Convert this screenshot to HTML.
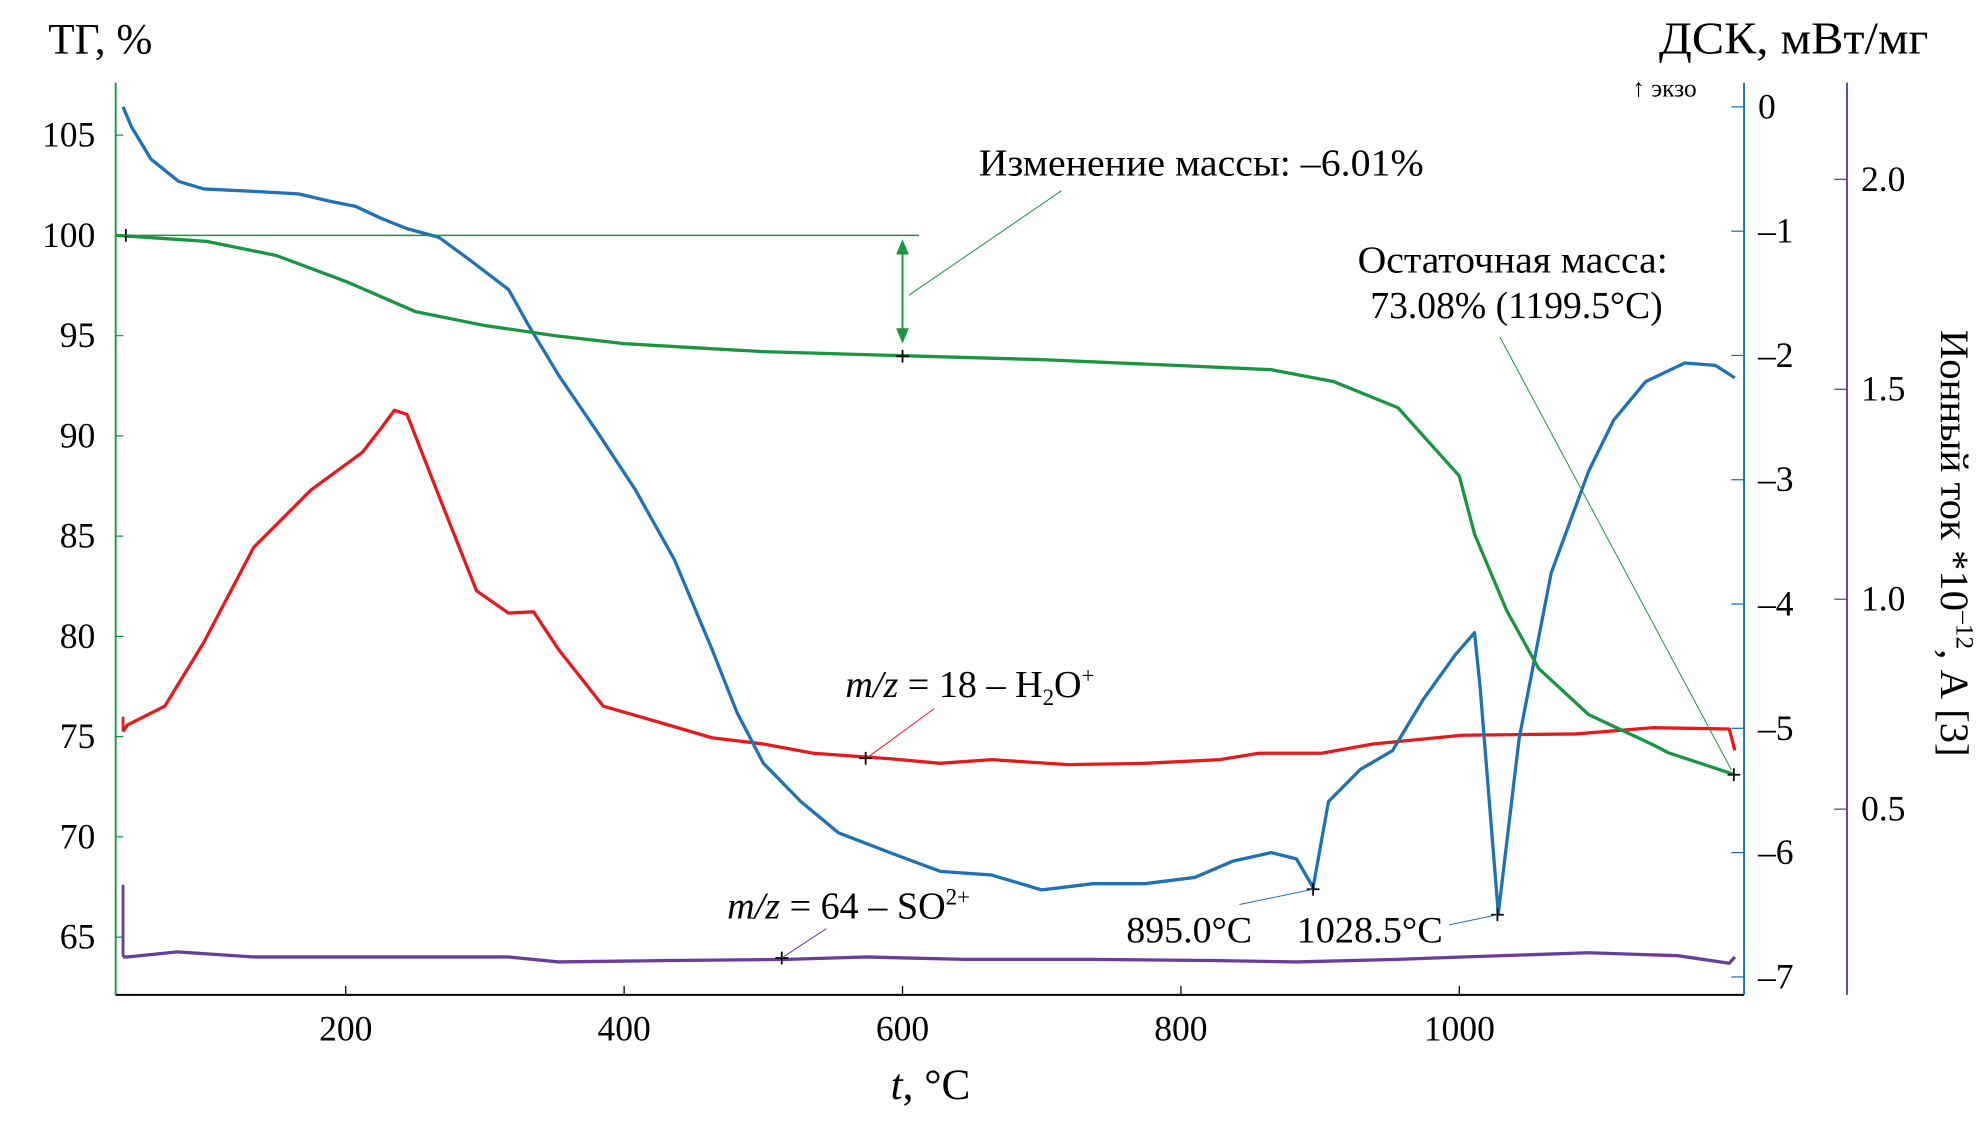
<!DOCTYPE html>
<html><head><meta charset="utf-8"><style>
html,body{margin:0;padding:0;background:#fff;}
svg{display:block;font-family:"Liberation Serif",serif;}
</style></head><body>
<svg id="chart" width="1983" height="1145" viewBox="0 0 1560 900" preserveAspectRatio="none" xmlns="http://www.w3.org/2000/svg">
<g id="axes"></g>
<g id="series"></g>
<g id="annot">
<text x="38" y="42" font-size="34">ТГ, %</text>
<text x="1517" y="42" font-size="36" text-anchor="end" textLength="212" lengthAdjust="spacingAndGlyphs">ДСК, мВт/мг</text>
<text x="1284" y="76" font-size="20">↑ экзо</text>
<text transform="translate(1527,427) rotate(90)" font-size="32" text-anchor="middle">Ионный ток *10<tspan font-size="20" dy="-12">–12</tspan><tspan dy="12">, А [3]</tspan></text>
<text x="732" y="864" font-size="34" text-anchor="middle"><tspan font-style="italic">t</tspan>, °C</text>
<line x1="91" y1="185" x2="723" y2="185" stroke="#1a9641" stroke-width="1.2"/>
<line x1="710" y1="192" x2="710" y2="266" stroke="#1a9641" stroke-width="1.5"/>
<path d="M705,200 L710,188 L715,200 Z M705,258 L710,270 L715,258 Z" fill="#1a9641"/>
<line x1="715" y1="232" x2="835" y2="150" stroke="#1a9641" stroke-width="0.8"/>
<text x="770" y="138" font-size="30" textLength="350" lengthAdjust="spacingAndGlyphs">Изменение массы: –6.01%</text>
<text x="1068" y="214" font-size="30" textLength="244" lengthAdjust="spacingAndGlyphs">Остаточная масса:</text>
<text x="1078" y="250" font-size="30" textLength="230" lengthAdjust="spacingAndGlyphs">73.08% (1199.5°C)</text>
<line x1="1180" y1="265" x2="1362" y2="605" stroke="#1a9641" stroke-width="0.8"/>
<text x="665" y="548" font-size="30"><tspan font-style="italic">m/z</tspan> = 18 – H<tspan font-size="18" dy="6">2</tspan><tspan dy="-6">O</tspan><tspan font-size="18" dy="-11">+</tspan></text>
<line x1="683" y1="595" x2="735" y2="557" stroke="#e41a1c" stroke-width="0.8"/>
<text x="572" y="722" font-size="30"><tspan font-style="italic">m/z</tspan> = 64 – SO<tspan font-size="18" dy="-11">2+</tspan></text>
<line x1="615" y1="753" x2="650" y2="730" stroke="#6a3d9a" stroke-width="0.8"/>
<text x="886" y="741" font-size="29" textLength="99" lengthAdjust="spacingAndGlyphs">895.0°C</text>
<line x1="975" y1="711" x2="1033" y2="699" stroke="#2171b5" stroke-width="0.8"/>
<text x="1020" y="741" font-size="29" textLength="115" lengthAdjust="spacingAndGlyphs">1028.5°C</text>
<line x1="1140" y1="727" x2="1178" y2="719" stroke="#2171b5" stroke-width="0.8"/>
</g>
</svg>
<script>
const tgT=[35,100,150,200,250,300,350,400,450,500,600,700,800,865,910,956,1000,1011,1034,1057,1093,1139,1150,1198];
const tgV=[100,99.7,99,97.7,96.2,95.5,95,94.6,94.4,94.2,94,93.8,93.5,93.3,92.7,91.4,88,85.1,81.3,78.4,76.1,74.6,74.2,73.1];
const dscT=[40,46,60,80,98,134,166,189,207,226,244,267,290,317,331,353,381,408,436,463,481,500,527,554,591,627,664,700,737,774,810,837,865,883,895,906,929,952,974,997,1011,1015,1028,1043,1066,1093,1111,1134,1162,1184,1198];
const dscV=[0,-0.16,-0.42,-0.6,-0.66,-0.68,-0.7,-0.76,-0.8,-0.9,-0.98,-1.05,-1.24,-1.47,-1.75,-2.16,-2.62,-3.08,-3.64,-4.36,-4.87,-5.28,-5.59,-5.84,-6.0,-6.15,-6.18,-6.3,-6.25,-6.25,-6.2,-6.07,-6.0,-6.05,-6.28,-5.59,-5.33,-5.18,-4.77,-4.41,-4.23,-4.67,-6.49,-5.08,-3.75,-2.93,-2.52,-2.21,-2.06,-2.08,-2.18];
const h2oT=[40,43,70,98,134,175,212,226,235,244,267,294,317,335,353,385,426,463,500,536,591,627,664,719,774,828,856,901,938,1002,1084,1139,1194,1198];
const h2oV=[0.685,0.70,0.745,0.897,1.124,1.26,1.35,1.41,1.45,1.44,1.245,1.02,0.967,0.97,0.88,0.745,0.706,0.67,0.655,0.633,0.62,0.609,0.618,0.606,0.609,0.618,0.633,0.633,0.655,0.676,0.679,0.694,0.691,0.64];
const soT=[40,43,79,134,226,317,353,426,517,573,645,737,828,883,956,1002,1093,1157,1194,1198];
const soV=[0.148,0.148,0.16,0.148,0.148,0.148,0.136,0.139,0.142,0.148,0.142,0.142,0.139,0.136,0.142,0.148,0.158,0.151,0.133,0.148];
const xTicks=[200,400,600,800,1000];
const tgTicks=[65,70,75,80,85,90,95,100,105];
const dscTicks=[0,-1,-2,-3,-4,-5,-6,-7];
const ionTicks=[0.5,1.0,1.5,2.0];
const ionLabels=["0.5","1.0","1.5","2.0"];

const X=t=>53+t*1.095;
const YT=v=>185+(100-v)*15.76;
const YD=v=>84-v*97.7;
const YI=v=>141+(2.0-v)*330;
const NS="http://www.w3.org/2000/svg";
const axes=document.getElementById('axes'), ser=document.getElementById('series');
function mk(tag,attrs,parent){const e=document.createElementNS(NS,tag);for(const k in attrs)e.setAttribute(k,attrs[k]);parent.appendChild(e);return e;}
let e;
e=mk('line',{x1:91,y1:65,x2:91,y2:782,stroke:'#1a9641','stroke-width':1.5},axes);


e=mk('line',{x1:91,y1:782,x2:1372,y2:782,stroke:'#000','stroke-width':1.5},axes);


e=mk('line',{x1:1372,y1:65,x2:1372,y2:782,stroke:'#2171b5','stroke-width':1.5},axes);


e=mk('line',{x1:1453,y1:65,x2:1453,y2:782,stroke:'#6a3d9a','stroke-width':1.5},axes);


xTicks.forEach(t=>{
  mk('line',{x1:X(t),y1:782,x2:X(t),y2:775,stroke:'#000','stroke-width':1},axes);
  e=mk('text',{x:X(t),y:818,'font-size':28,'text-anchor':'middle'},axes);e.textContent=t;
  
  
});
tgTicks.forEach(v=>{
  mk('line',{x1:91,y1:YT(v),x2:97,y2:YT(v),stroke:'#1a9641','stroke-width':1},axes);
  e=mk('text',{x:75,y:YT(v)+9,'font-size':28,'text-anchor':'end'},axes);e.textContent=v;
  
  
});
dscTicks.forEach(v=>{
  mk('line',{x1:1362,y1:YD(v),x2:1372,y2:YD(v),stroke:'#2171b5','stroke-width':1},axes);
  e=mk('text',{x:1383,y:YD(v)+9,'font-size':28},axes);e.textContent=v===0?'0':'–'+(-v);
  
  
});
ionTicks.forEach((v,i)=>{
  mk('line',{x1:1443,y1:YI(v),x2:1453,y2:YI(v),stroke:'#6a3d9a','stroke-width':1},axes);
  e=mk('text',{x:1464,y:YI(v)+9,'font-size':28},axes);e.textContent=ionLabels[i];
  
  
});
function line(ts,vs,yf,color,name){
  const d=ts.map((t,i)=>(i?'L':'M')+X(t).toFixed(1)+','+yf(vs[i]).toFixed(1)).join(' ');
  const p=mk('path',{d:d,fill:'none',stroke:color,'stroke-width':2.6,'stroke-linejoin':'round'},ser);
  
  
}
line(soT,soV,YI,'#6a3d9a','so-series');
mk('line',{x1:X(40),y1:YI(0.32),x2:X(40),y2:YI(0.148),stroke:'#6a3d9a','stroke-width':2.2},ser);
line(h2oT,h2oV,YI,'#e41a1c','h2o-series');
mk('line',{x1:X(40),y1:YI(0.72),x2:X(40),y2:YI(0.685),stroke:'#e41a1c','stroke-width':2.2},ser);
line(dscT,dscV,YD,'#2171b5','dsc-series');
line(tgT,tgV,YT,'#1a9641','tg-series');
[[99,185],[710,280],[681,596],[615,753],[1033,699],[1178,719],[1364,609]].forEach(p=>{
  e=mk('path',{d:`M${p[0]-5},${p[1]} h10 M${p[0]},${p[1]-5} v10`,stroke:'#000','stroke-width':1.4},ser);
  
  
});
</script>
</body></html>
